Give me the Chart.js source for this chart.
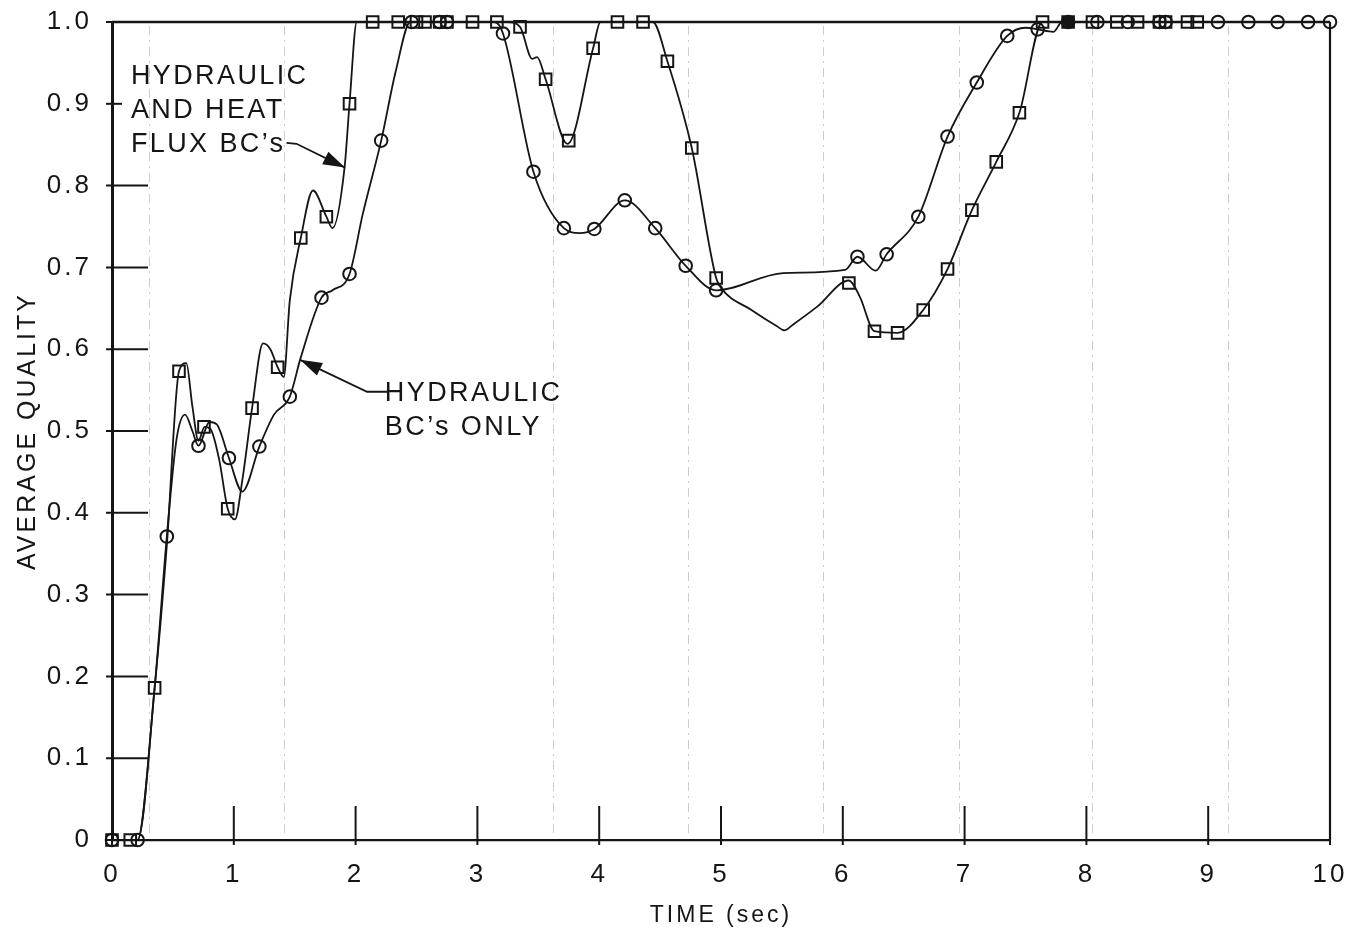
<!DOCTYPE html>
<html><head><meta charset="utf-8">
<script src="https://cdn.jsdelivr.net/npm/chart.js@4.4.1/dist/chart.umd.min.js"></script>
<style>html,body{margin:0;padding:0;background:#fff;}canvas{display:block;}</style>
</head><body>
<canvas id="c" width="1346" height="936"></canvas>
<script>
// ---- tick labels ----
const xTickLabels = ['0','1','2','3','4','5','6','7','8','9','10'];
const yTickLabels = ['0','0.1','0.2','0.3','0.4','0.5','0.6','0.7','0.8','0.9','1.0'];

// ---- "HYDRAULIC AND HEAT FLUX BC's" (squares): traced curve ----
const heatLineX = [0,0.21,0.35,0.45,0.55,0.61,0.66,0.71,0.76,0.81,0.88,0.95,1.01,1.07,1.15,1.24,1.30,1.36,1.41,1.46,1.55,1.65,1.76,1.81,1.91,1.95,2.01,3.25,3.35,3.45,3.49,3.56,3.74,3.95,4.01,4.44,4.56,4.76,4.96,5.00,5.25,5.46,5.52,5.59,5.79,6.05,6.14,6.26,6.45,6.66,6.86,7.06,7.26,7.45,7.64,8.91];
const heatLineY = [0,0,0.186,0.36,0.573,0.583,0.53,0.488,0.505,0.502,0.465,0.405,0.392,0.44,0.528,0.607,0.60,0.578,0.566,0.66,0.736,0.794,0.762,0.748,0.823,0.900,1.0,1.0,0.994,0.955,0.957,0.930,0.851,0.968,1.0,1.0,0.952,0.846,0.687,0.675,0.648,0.628,0.623,0.630,0.652,0.684,0.664,0.622,0.620,0.648,0.698,0.770,0.829,0.889,1.0,1.0];
// square markers
const heatMarkX = [0,0.15,0.35,0.55,0.755,0.95,1.15,1.36,1.55,1.76,1.95,2.14,2.35,2.50,2.57,2.69,2.75,2.96,3.16,3.35,3.56,3.75,3.95,4.15,4.36,4.56,4.76,4.96,6.05,6.26,6.45,6.66,6.86,7.06,7.26,7.45,7.64,8.05,8.25,8.42,8.60,8.65,8.83,8.91];
const heatMarkY = [0,0,0.186,0.573,0.505,0.405,0.528,0.578,0.736,0.762,0.900,1,1,1,1,1,1,1,1,0.994,0.930,0.855,0.968,1,1,0.952,0.846,0.687,0.681,0.622,0.620,0.648,0.698,0.770,0.829,0.889,1,1,1,1,1,1,1,1];
const heatFilledX = [7.85];
const heatFilledY = [1.0];

// ---- "HYDRAULIC BC's ONLY" (circles): traced curve ----
const hydLineX = [0,0.21,0.35,0.45,0.53,0.60,0.66,0.71,0.80,0.86,0.96,1.07,1.21,1.33,1.46,1.55,1.72,1.81,1.95,2.06,2.21,2.33,2.45,3.14,3.21,3.46,3.71,3.84,3.96,4.21,4.46,4.71,4.96,5.51,6.02,6.12,6.27,6.36,6.62,6.86,7.10,7.35,7.50,7.60,7.73,7.80,10];
const hydLineY = [0,0,0.186,0.371,0.49,0.52,0.50,0.482,0.511,0.508,0.467,0.426,0.481,0.52,0.542,0.59,0.663,0.672,0.692,0.766,0.855,0.94,1.0,1.0,0.986,0.817,0.748,0.742,0.747,0.782,0.748,0.702,0.672,0.693,0.697,0.713,0.696,0.716,0.762,0.860,0.926,0.983,0.993,0.991,0.988,1.0,1.0];
// circle markers
const hydMarkX = [0,0.21,0.45,0.71,0.96,1.21,1.46,1.72,1.95,2.21,2.46,2.69,2.75,3.21,3.46,3.71,3.96,4.21,4.46,4.71,4.96,6.12,6.36,6.62,6.86,7.10,7.35,7.60,7.85,8.09,8.34,8.60,8.65,9.08,9.33,9.57,9.82,10.0];
const hydMarkY = [0,0,0.371,0.482,0.467,0.481,0.542,0.663,0.692,0.855,1,1,1,0.986,0.817,0.748,0.747,0.782,0.748,0.702,0.672,0.713,0.716,0.762,0.860,0.926,0.983,0.991,1,1,1,1,1,1,1,1,1,1];

// ---- faint graph-paper rulings visible in the scan (x values) ----
const graphPaperX = [0.30,1.41,3.62,4.73,5.84,6.95,8.05,9.16];

// ---- annotation texts ----
const heatLabel = ['HYDRAULIC','AND HEAT','FLUX BC\u2019s'];
const hydLabel = ['HYDRAULIC','BC\u2019s ONLY'];

const INK = '#151515';
const FONT = "'Liberation Sans', Arial, Helvetica, sans-serif";
const pts = (xs, ys) => xs.map((x, i) => ({x, y: ys[i]}));

// annotation anchors in data units (heat arrow starts at the end of its last text line)
const heatAnno = {text: heatLabel, at: {x: 0.155, y: 0.933}, fromTextEnd: true, arrow: [null, {x:1.913,y:0.822}]};
const hydAnno = {text: hydLabel, at: {x: 2.24, y: 0.546}, arrow: [{x:2.258,y:0.548},{x:2.094,y:0.548},{x:1.544,y:0.587}]};

const framePlugin = {
  id: 'frame',
  beforeDraw(chart) {
    const ctx = chart.ctx;
    ctx.save();
    ctx.fillStyle = '#fff';
    ctx.fillRect(0, 0, chart.width, chart.height);
    ctx.restore();
    ctx.letterSpacing = '3px';
  },
  beforeDatasetsDraw(chart) {
    const {ctx, chartArea: a, scales: {x, y}} = chart;
    ctx.save();
    ctx.letterSpacing = '0px';
    ctx.strokeStyle = '#cdcdcd';
    ctx.lineWidth = 1;
    ctx.setLineDash([9, 5, 2, 5]);
    graphPaperX.forEach(v => {
      const px = Math.round(x.getPixelForValue(v)) + 0.5;
      ctx.beginPath(); ctx.moveTo(px, a.top + 4); ctx.lineTo(px, a.bottom - 4); ctx.stroke();
    });
    ctx.setLineDash([]);
    ctx.strokeStyle = INK;
    ctx.lineWidth = 2.6;
    ctx.beginPath(); ctx.moveTo(a.left, a.top); ctx.lineTo(a.right, a.top); ctx.stroke();
    ctx.lineWidth = 2.2;
    ctx.beginPath(); ctx.moveTo(a.right, a.top); ctx.lineTo(a.right, a.bottom); ctx.stroke();
    ctx.lineWidth = 2;
    y.ticks.forEach((t, i) => {
      const py = y.getPixelForValue(t.value);
      const inward = yTickLabels[i] === '0.9' ? 10 : (yTickLabels[i] === '1.0' ? 0 : 36);
      ctx.beginPath(); ctx.moveTo(a.left - 6, py); ctx.lineTo(a.left + inward, py); ctx.stroke();
    });
    x.ticks.forEach(t => {
      const px = x.getPixelForValue(t.value);
      ctx.beginPath(); ctx.moveTo(px, a.bottom + 5); ctx.lineTo(px, a.bottom - 34); ctx.stroke();
    });
    ctx.restore();
  },
  afterDraw(chart) {
    const {ctx, scales: {x, y}} = chart;
    const drawAnno = (an) => {
      ctx.save();
      ctx.fillStyle = INK;
      ctx.font = `27px ${FONT}`;
      ctx.letterSpacing = '2.4px';
      ctx.textBaseline = 'middle';
      ctx.textAlign = 'left';
      const px = x.getPixelForValue(an.at.x), py = y.getPixelForValue(an.at.y);
      an.text.forEach((t, i) => ctx.fillText(t, px, py + i * 34));
      let p = an.arrow.filter(q => q).map(q => ({x: x.getPixelForValue(q.x), y: y.getPixelForValue(q.y)}));
      if (an.fromTextEnd) {
        const last = an.text[an.text.length - 1];
        const sx = px + ctx.measureText(last).width + 1, sy = py + (an.text.length - 1) * 34 - 2;
        p = [{x: sx, y: sy}, {x: sx + 10, y: sy + 1}].concat(p);
      }
      ctx.strokeStyle = INK; ctx.lineWidth = 1.8;
      ctx.beginPath(); ctx.moveTo(p[0].x, p[0].y);
      for (let i = 1; i < p.length; i++) ctx.lineTo(p[i].x, p[i].y);
      ctx.stroke();
      const tip = p[p.length - 1], prev = p[p.length - 2];
      const ang = Math.atan2(tip.y - prev.y, tip.x - prev.x);
      const L = 22, W = 7;
      ctx.beginPath();
      ctx.moveTo(tip.x, tip.y);
      ctx.lineTo(tip.x - L * Math.cos(ang) + W * Math.sin(ang), tip.y - L * Math.sin(ang) - W * Math.cos(ang));
      ctx.lineTo(tip.x - L * Math.cos(ang) - W * Math.sin(ang), tip.y - L * Math.sin(ang) + W * Math.cos(ang));
      ctx.closePath(); ctx.fill();
      ctx.restore();
    };
    drawAnno(heatAnno);
    drawAnno(hydAnno);
    ctx.letterSpacing = '0px';
  }
};

const lineDs = (label, data) => ({
  label, data, showLine: true, borderColor: INK, borderWidth: 1.8,
  pointRadius: 0, cubicInterpolationMode: 'monotone', clip: false, order: 2
});
const markDs = (label, data, style, r, fill) => ({
  label, data, showLine: false, pointStyle: style, pointRadius: r,
  pointBorderColor: INK, pointBackgroundColor: fill, pointBorderWidth: 2,
  clip: false, order: 1
});

new Chart(document.getElementById('c'), {
  type: 'scatter',
  data: {
    datasets: [
      lineDs('HYDRAULIC AND HEAT FLUX BC\u2019s', pts(heatLineX, heatLineY)),
      lineDs('HYDRAULIC BC\u2019s ONLY', pts(hydLineX, hydLineY)),
      markDs('heat markers', pts(heatMarkX, heatMarkY), 'rect', 8.2, 'rgba(0,0,0,0)'),
      markDs('heat marker filled', pts(heatFilledX, heatFilledY), 'rect', 8.2, INK),
      markDs('hydraulic markers', pts(hydMarkX, hydMarkY), 'circle', 6.3, 'rgba(0,0,0,0)')
    ]
  },
  options: {
    responsive: false,
    animation: false,
    devicePixelRatio: 1,
    layout: {padding: {top: 22, right: 16, left: 0, bottom: 0}},
    plugins: {legend: {display: false}, tooltip: {enabled: false}},
    scales: {
      x: {
        type: 'linear', min: 0, max: 10,
        afterFit: s => { s.height = 96; s.paddingLeft = 0; s.paddingRight = 0; },
        ticks: {stepSize: 1, color: INK, font: {size: 26, family: FONT}, padding: 19,
          callback: (v, i) => xTickLabels[i]},
        grid: {display: false, drawTicks: false},
        border: {display: true, color: INK, width: 2.2},
        title: {display: true, text: 'TIME (sec)', color: INK, font: {size: 23, family: FONT}, padding: {top: 0, bottom: 7}}
      },
      y: {
        type: 'linear', min: 0, max: 1,
        afterFit: s => { s.width = 112; s.paddingTop = 0; s.paddingBottom = 0; },
        ticks: {stepSize: 0.1, color: INK, font: {size: 26, family: FONT}, padding: 20,
          callback: (v, i) => yTickLabels[i]},
        grid: {display: false, drawTicks: false},
        border: {display: true, color: INK, width: 3},
        title: {display: true, text: 'AVERAGE QUALITY', color: INK, font: {size: 25, family: FONT}, padding: {top: 13, bottom: 0}}
      }
    }
  },
  plugins: [framePlugin]
});
</script>
</body></html>
